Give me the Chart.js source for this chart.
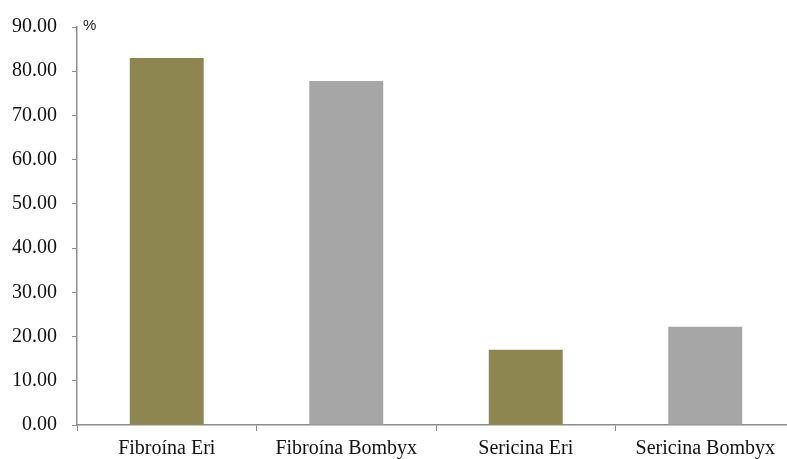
<!DOCTYPE html>
<html>
<head>
<meta charset="utf-8">
<script src="https://cdn.jsdelivr.net/npm/chart.js@4/dist/chart.umd.min.js"></script>
<style>
  html, body { margin: 0; padding: 0; background: #fff; overflow: hidden; }
  #wrap { position: relative; width: 796px; height: 459px; }
</style>
</head>
<body>
<div id="wrap"><canvas id="myChart"></canvas></div>
<script>
var categories = ['Fibroína Eri', 'Fibroína Bombyx', 'Sericina Eri', 'Sericina Bombyx'];
var values = [83.0, 77.8, 17.0, 22.2];
var barColors = ['#8E8651', '#A6A6A6', '#8E8651', '#A6A6A6'];
var yMin = 0, yMax = 90, yStep = 10;

var axisGray = '#8C8C8C';
var serif = '"Liberation Serif", "Times New Roman", serif';

// small "%" unit label next to the top of the y axis
var unitLabel = {
    id: 'unitLabel',
    afterDraw: function (chart) {
        var c = chart.ctx, y = chart.scales.y;
        c.save();
        c.font = '15px "Liberation Sans", Arial, sans-serif';
        c.fillStyle = '#222';
        c.textBaseline = 'middle';
        c.fillText('%', y.right + 6, y.getPixelForValue(yMax) - 1);
        c.restore();
    }
};

var ctx = document.getElementById('myChart').getContext('2d');
var myChart = new Chart(ctx, {
    type: 'bar',
    data: {
        labels: categories,
        datasets: [{
            data: values,
            backgroundColor: barColors,
            borderWidth: 0,
            categoryPercentage: 1,
            barPercentage: 0.412
        }]
    },
    options: {
        responsive: true,
        maintainAspectRatio: false,
        animation: false,
        layout: { padding: { top: 22, right: 1, left: 0, bottom: 0 } },
        plugins: {
            legend: { display: false },
            tooltip: { enabled: false }
        },
        scales: {
            x: {
                offset: true,
                grid: {
                    offset: true,
                    drawOnChartArea: false,
                    drawTicks: true,
                    tickLength: 6,
                    color: axisGray
                },
                border: { color: axisGray, width: 1.5 },
                ticks: {
                    color: '#111',
                    font: { family: serif, size: 20 },
                    padding: 6,
                    maxRotation: 0
                },
                afterFit: function (s) { s.height = 34; }
            },
            y: {
                min: yMin,
                max: yMax,
                grid: {
                    drawOnChartArea: false,
                    tickLength: 5,
                    color: axisGray
                },
                border: { color: axisGray, width: 1.5 },
                ticks: {
                    stepSize: yStep,
                    color: '#111',
                    padding: 15,
                    font: { family: serif, size: 20 },
                    callback: function (v) { return Number(v).toFixed(2); }
                },
                afterFit: function (s) { s.width = 77; }
            }
        }
    },
    plugins: [unitLabel]
});
</script>
</body>
</html>
